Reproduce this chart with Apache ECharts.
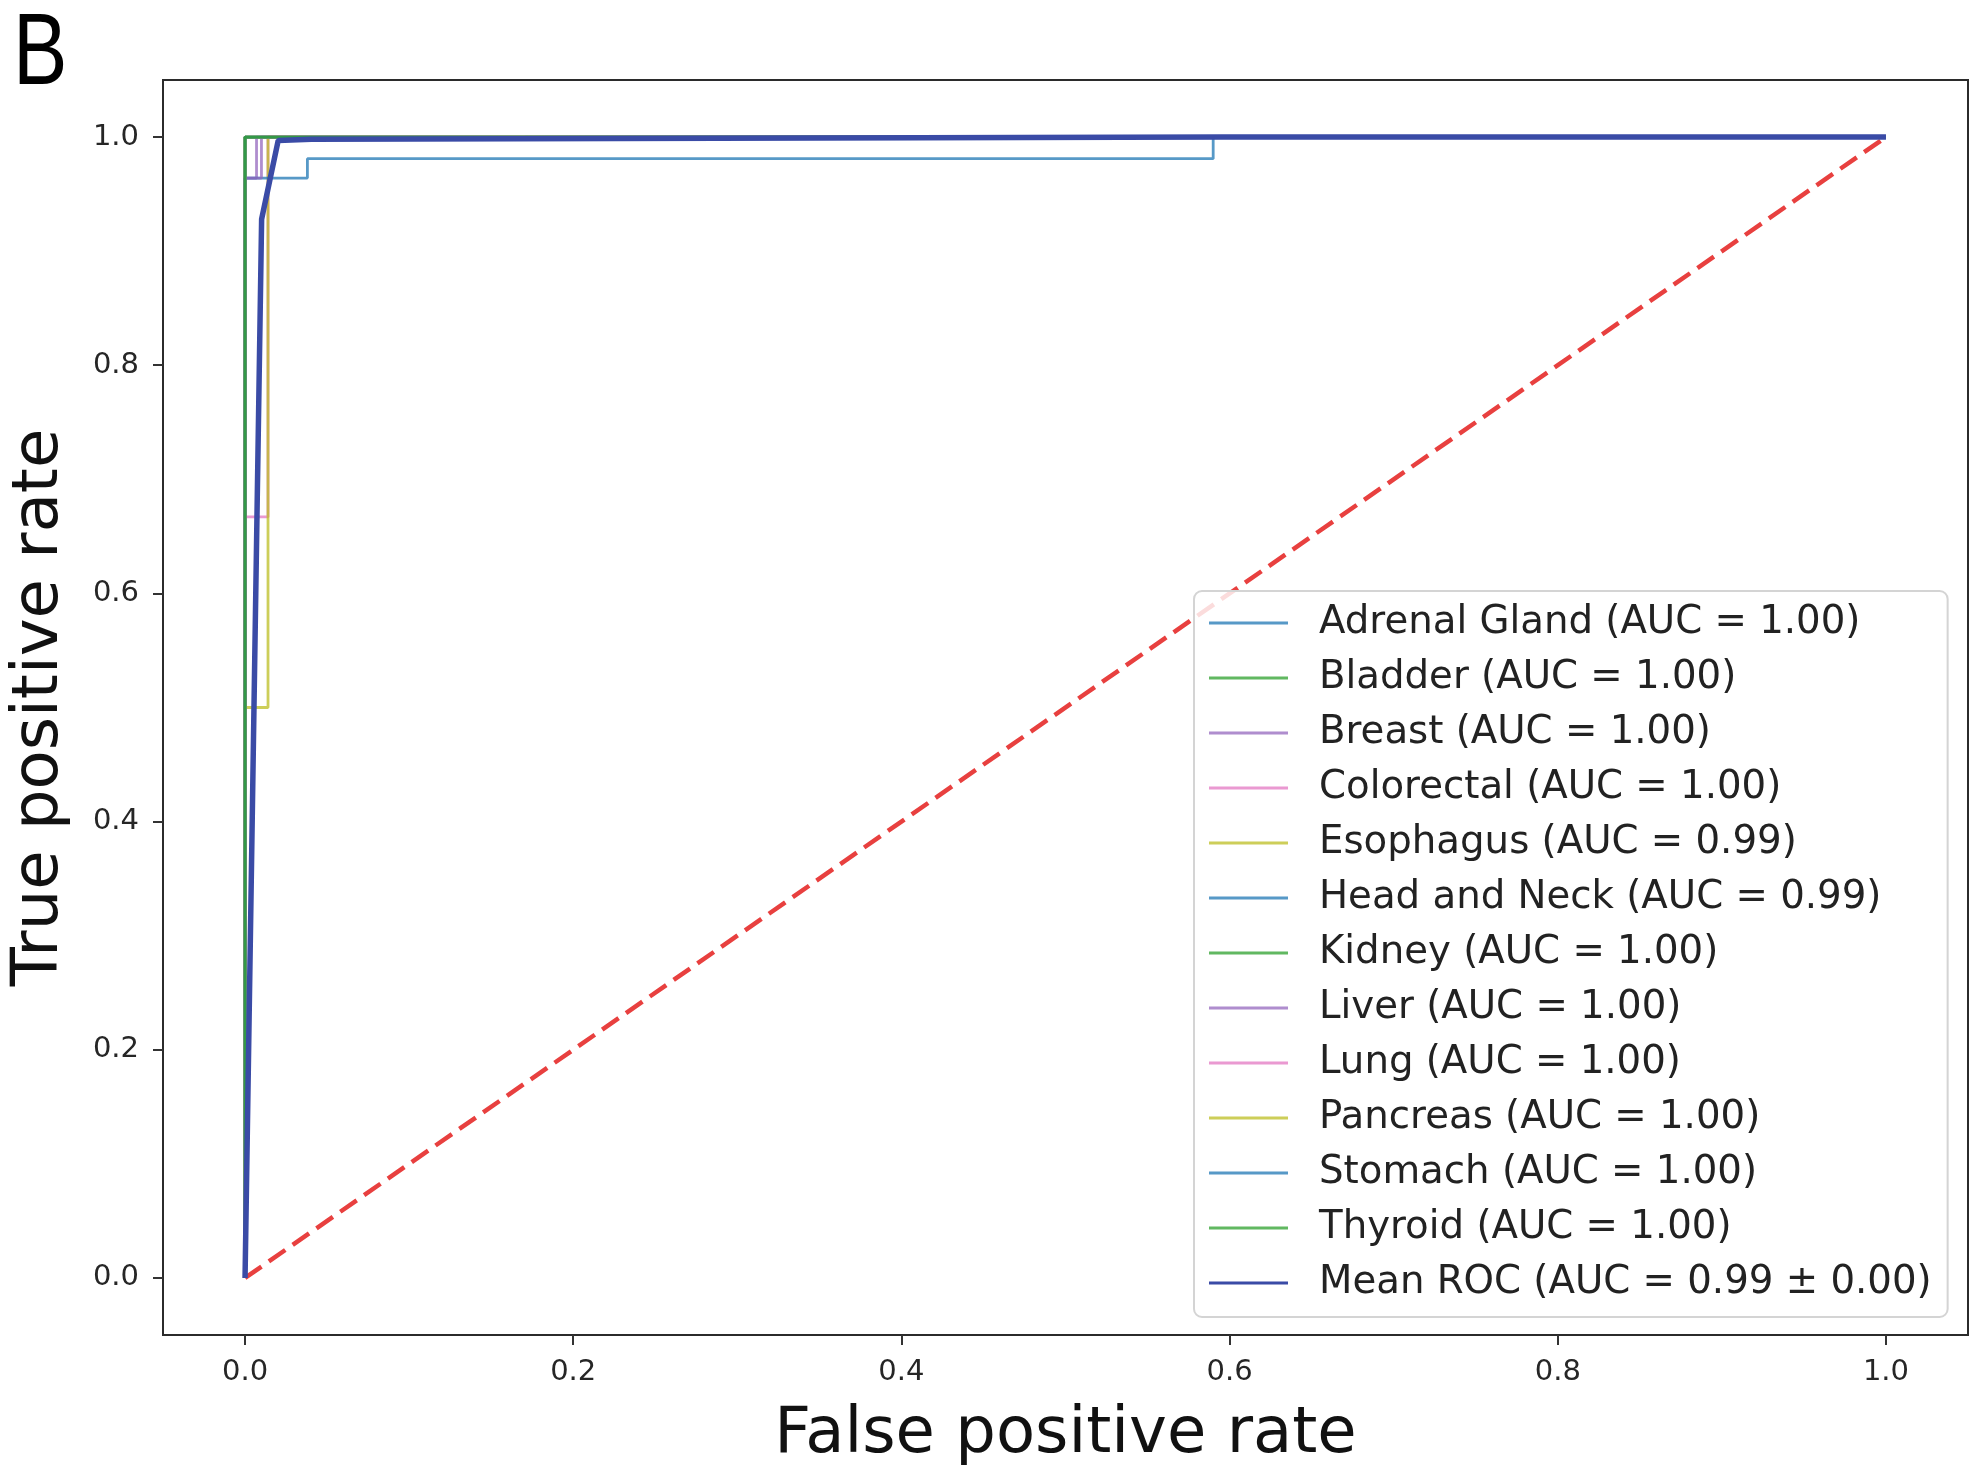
<!DOCTYPE html>
<html>
<head>
<meta charset="utf-8">
<script src="https://cdn.jsdelivr.net/npm/echarts@6/dist/echarts.min.js"></script>
<style>
html,body{margin:0;padding:0;background:#fff;}
#chart{width:1971px;height:1473px;}
</style>
</head>
<body>
<div id="chart"></div>
<script>
// ---- data ----
const classNames = ['Adrenal Gland','Bladder','Breast','Colorectal','Esophagus','Head and Neck','Kidney','Liver','Lung','Pancreas','Stomach','Thyroid'];
const aucLabels  = ['1.00','1.00','1.00','1.00','0.99','0.99','1.00','1.00','1.00','1.00','1.00','1.00'];

const fprAdrenal = [0, 0, 1];            const tprAdrenal = [0, 1, 1];
const fprBladder = [0, 0, 1];            const tprBladder = [0, 1, 1];
const fprBreast = [0, 0, 0.007, 0.007, 1];   const tprBreast = [0, 0.964, 0.964, 1, 1];
const fprColorectal = [0, 0, 0.014, 0.014, 1]; const tprColorectal = [0, 0.667, 0.667, 1, 1];
const fprEsophagus = [0, 0, 0.014, 0.014, 1];  const tprEsophagus = [0, 0.5, 0.5, 1, 1];
const fprHeadNeck = [0, 0, 0.038, 0.038, 0.59, 0.59, 1]; const tprHeadNeck = [0, 0.964, 0.964, 0.981, 0.981, 1, 1];
const fprKidney = [0, 0, 1];             const tprKidney = [0, 1, 1];
const fprLiver = [0, 0, 0.010, 0.010, 1];   const tprLiver = [0, 0.964, 0.964, 1, 1];
const fprLung = [0, 0, 1];               const tprLung = [0, 1, 1];
const fprPancreas = [0, 0, 1];           const tprPancreas = [0, 1, 1];
const fprStomach = [0, 0, 1];            const tprStomach = [0, 1, 1];
const fprThyroid = [0, 0, 1];            const tprThyroid = [0, 1, 1];

const meanFpr = [0, 0.0101, 0.0202, 0.0404, 0.596, 1.0];
const meanTpr = [0, 0.928, 0.997, 0.998, 1.0, 1.0];
const meanLabel = 'Mean ROC (AUC = 0.99 \u00b1 0.00)';

const chanceFpr = [0, 1];
const chanceTpr = [0, 1];

const xTicks = [0, 0.2, 0.4, 0.6, 0.8, 1.0];
const yTicks = [0, 0.2, 0.4, 0.6, 0.8, 1.0];

const curveFpr = [fprAdrenal, fprBladder, fprBreast, fprColorectal, fprEsophagus, fprHeadNeck, fprKidney, fprLiver, fprLung, fprPancreas, fprStomach, fprThyroid];
const curveTpr = [tprAdrenal, tprBladder, tprBreast, tprColorectal, tprEsophagus, tprHeadNeck, tprKidney, tprLiver, tprLung, tprPancreas, tprStomach, tprThyroid];

// ---- styles ----
const palette = ['rgba(31,119,180,0.75)','rgba(44,160,44,0.75)','rgba(148,103,189,0.75)','rgba(227,119,194,0.75)','rgba(188,189,34,0.75)'];
const meanColor = '#3a4ba6';
const chanceColor = '#e8403f';
const FONT = 'DejaVu Sans';

const zip = (a, b) => a.map((v, i) => [v, b[i]]);

const series = [];
const legendData = [];
classNames.forEach((n, i) => {
  const name = n + ' (AUC = ' + aucLabels[i] + ')';
  legendData.push(name);
  const c = palette[i % palette.length];
  series.push({
    name: name, type: 'line', data: zip(curveFpr[i], curveTpr[i]),
    symbol: 'none', silent: true, animation: false,
    lineStyle: { color: c, width: 2.8 }, itemStyle: { color: c }
  });
});
series.push({
  name: 'chance', type: 'line', data: zip(chanceFpr, chanceTpr),
  symbol: 'none', silent: true, animation: false,
  lineStyle: { color: chanceColor, width: 4.5, type: [20, 9] }, itemStyle: { color: chanceColor }
});
series.push({
  name: meanLabel, type: 'line', data: zip(meanFpr, meanTpr),
  symbol: 'none', silent: true, animation: false,
  lineStyle: { color: meanColor, width: 5.5 }, itemStyle: { color: meanColor }
});
legendData.push(meanLabel);

const chart = echarts.init(document.getElementById('chart'), null, { renderer: 'canvas' });
chart.setOption({
  animation: false,
  backgroundColor: '#ffffff',
  grid: { left: 163, right: 3, top: 80, bottom: 138, show: true, borderColor: '#2b2b2b', borderWidth: 2, backgroundColor: 'transparent', containLabel: false, outerBoundsMode: 'none' },
  xAxis: {
    type: 'value', min: -0.05, max: 1.05,
    name: 'False positive rate', nameLocation: 'middle', nameGap: 68,
    nameTextStyle: { fontFamily: FONT, fontSize: 64, color: '#111' },
    axisLine: { show: false, onZero: false },
    splitLine: { show: false },
    axisTick: { show: true, inside: false, length: 10, lineStyle: { color: '#333', width: 2 }, customValues: xTicks },
    axisLabel: { customValues: xTicks, margin: 23, fontFamily: FONT, fontSize: 29, color: '#262626', formatter: v => Number(v).toFixed(1) }
  },
  yAxis: {
    type: 'value', min: -0.05, max: 1.05,
    name: 'True positive rate', nameLocation: 'middle', nameGap: 91, nameRotate: 90,
    nameTextStyle: { fontFamily: FONT, fontSize: 64, color: '#111' },
    axisLine: { show: false, onZero: false },
    splitLine: { show: false },
    axisTick: { show: true, inside: false, length: 10, lineStyle: { color: '#333', width: 2 }, customValues: yTicks },
    axisLabel: { customValues: yTicks, margin: 24, fontFamily: FONT, fontSize: 29, color: '#262626', formatter: v => Number(v).toFixed(1) }
  },
  legend: {
    data: legendData, orient: 'vertical', left: 1194, top: 591,
    padding: [10, 16, 12, 15],
    icon: 'rect', itemWidth: 79, itemHeight: 3, itemGap: 11,
    backgroundColor: 'rgba(255,255,255,0.82)', borderColor: '#d4d4d4', borderWidth: 2, borderRadius: 8,
    selectedMode: false,
    textStyle: { fontFamily: FONT, fontSize: 38.7, color: '#222', lineHeight: 44, padding: [0, 0, 0, 26] }
  },
  graphic: [{
    type: 'text', x: 13, y: 5, scaleX: 0.8, silent: true,
    style: { text: 'B', fontFamily: 'Liberation Sans', fontSize: 102, fill: '#000', textVerticalAlign: 'top' }
  }],
  series: series
});
</script>
</body>
</html>
